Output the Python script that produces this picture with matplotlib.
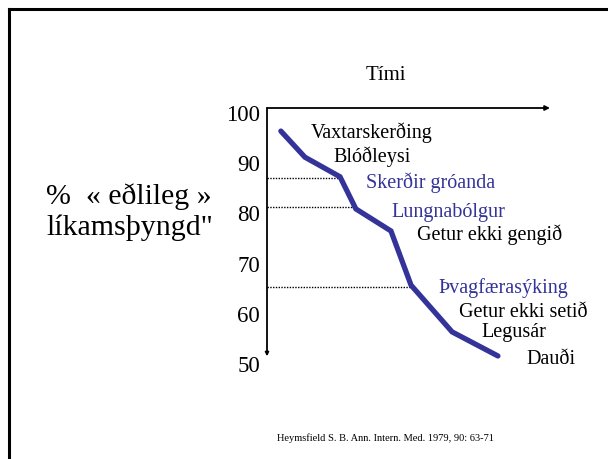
import matplotlib.pyplot as plt
from matplotlib.lines import Line2D

plt.rcParams['font.family'] = ['Liberation Serif', 'DejaVu Serif']

# === DATA ===
time_pts = [0.49, 1.34, 2.58, 3.14, 4.38, 5.09, 6.54, 8.16]
weight_pct = [96.4, 91.2, 87.3, 80.9, 76.5, 65.7, 56.4, 51.6]
yticks = [100, 90, 80, 70, 60, 50]

# dotted reference lines (x end, level)
ref_x = [2.58, 3.14, 5.09]
ref_y = [87.0, 81.3, 65.3]

labels = ["Vaxtarskerðing", "Blóðleysi", "Skerðir gróanda", "Lungnabólgur",
          "Getur ekki gengið", "Þvagfærasýking", "Getur ekki setið",
          "Legusár", "Dauði"]
label_x = [1.55, 2.36, 3.49, 4.38, 5.30, 6.04, 6.78, 7.56, 9.15]
label_y = [96.0, 91.2, 86.1, 80.1, 75.7, 65.1, 60.2, 56.2, 50.8]
label_blue = [False, False, True, True, False, True, False, False, False]

blue = "#333399"

fig = plt.figure(figsize=(6.08, 4.59), dpi=100)

# slide border (top and left edges visible)
fig.add_artist(Line2D([9 / 608, 1.0], [1 - 9 / 459, 1 - 9 / 459],
                      color="black", lw=2.2, transform=fig.transFigure))
fig.add_artist(Line2D([9 / 608, 9 / 608], [0.0, 1 - 9 / 459],
                      color="black", lw=2.2, transform=fig.transFigure))

ax = fig.add_axes([267 / 608, 1 - 364 / 459, 283 / 608, 256 / 459])
ax.set_xlim(0, 10)
ax.set_ylim(50, 101.0)
for s in ax.spines.values():
    s.set_visible(False)
ax.set_xticks([])
ax.set_yticks(yticks)
ax.set_yticklabels([str(t) for t in yticks], fontsize=16.5)
ax.tick_params(axis="y", length=0, pad=5)

# axes with arrows
ax.annotate("", xy=(1.0, 1.0), xytext=(0.0, 1.0), xycoords="axes fraction",
            arrowprops=dict(arrowstyle="-|>", color="black", lw=1.3,
                            mutation_scale=7, shrinkA=0, shrinkB=0))
ax.annotate("", xy=(0.0, 0.03), xytext=(0.0, 1.0), xycoords="axes fraction",
            arrowprops=dict(arrowstyle="-|>", color="black", lw=1.3,
                            mutation_scale=5, shrinkA=0, shrinkB=0))

for xe, yv in zip(ref_x, ref_y):
    ax.plot([0, xe], [yv, yv], color="black", lw=1.0, linestyle=(0, (1, 1)))

ax.plot(time_pts, weight_pct, color=blue, lw=3.8, solid_capstyle="round",
        solid_joinstyle="miter", zorder=3)

for t, x, y, b in zip(labels, label_x, label_y, label_blue):
    ax.text(x, y, t, fontsize=14.5, color=blue if b else "black",
            ha="left", va="center", clip_on=False)

fig.text(386 / 608, 1 - 76 / 459, "Tími", fontsize=15,
         ha="center", va="center")

fig.text(46 / 608, 1 - 197 / 459, "%  « eðlileg »", fontsize=21.5,
         ha="left", va="center")
fig.text(46 / 608, 1 - 228 / 459, "líkamsþyngd\"", fontsize=21.5,
         ha="left", va="center")

fig.text(385 / 608, 1 - 438 / 459,
         "Heymsfield S. B. Ann. Intern. Med. 1979, 90: 63-71",
         fontsize=7.5, ha="center", va="center")

fig.savefig("out.png", dpi=100)
